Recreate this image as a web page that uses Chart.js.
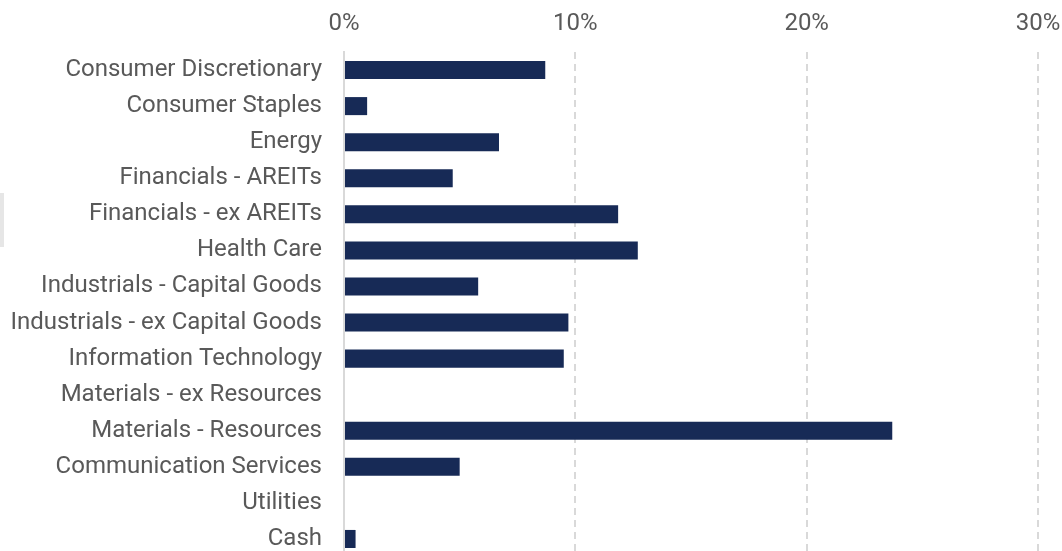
<!DOCTYPE html>
<html>
<head>
<meta charset="utf-8">
<script src="https://cdn.jsdelivr.net/npm/chart.js@4"></script>
<style>
  html, body { margin: 0; padding: 0; overflow: hidden; background: #fff; }
  #wrap { position: relative; width: 1062px; height: 557px; }
  #sectorChart { display: block; }
  #marker { position: absolute; left: 0; top: 193px; width: 4px; height: 54px; background: #e6e6e6; }
</style>
</head>
<body>
<div id="wrap">
  <canvas id="sectorChart" width="1062" height="557"></canvas>
  <div id="marker"></div>
</div>
<script>
// sector weights
const sectors = [
    "Consumer Discretionary",
    "Consumer Staples",
    "Energy",
    "Financials - AREITs",
    "Financials - ex AREITs",
    "Health Care",
    "Industrials - Capital Goods",
    "Industrials - ex Capital Goods",
    "Information Technology",
    "Materials - ex Resources",
    "Materials - Resources",
    "Communication Services",
    "Utilities",
    "Cash"
];
const weights = [8.7, 1.0, 6.7, 4.7, 11.85, 12.7, 5.8, 9.7, 9.5, 0, 23.7, 5.0, 0, 0.5];
const xTicks = [0, 10, 20, 30];

const ctx = document.getElementById("sectorChart");

new Chart(ctx, {
    type: "bar",
    data: {
        labels: sectors,
        datasets: [
            {
                label: "Weight",
                data: weights,
                backgroundColor: "#172a56",
                borderWidth: 0,
                categoryPercentage: 0.5,
                barPercentage: 1,
            },
        ],
    },
    options: {
        indexAxis: "y",
        responsive: false,
        animation: false,
        layout: { padding: { left: 0, right: 24, top: 0, bottom: 0 } },
        plugins: {
            legend: { display: false },
            tooltip: { enabled: false },
        },
        scales: {
            x: {
                position: "top",
                min: 0,
                max: 30,
                afterBuildTicks: (scale) => {
                    scale.ticks = xTicks.map((v) => ({ value: v }));
                },
                afterFit: (scale) => {
                    scale.height = 52;
                    // tick padding should not eat into the plot area
                    scale.paddingLeft = 0;
                    scale.paddingRight = 0;
                },
                grid: {
                    drawTicks: false,
                    lineWidth: 2,
                    color: (c) => (c.tick && c.tick.value === 0 ? "rgba(0,0,0,0)" : "#d9d9d9"),
                },
                border: { display: false, dash: [7, 5] },
                ticks: {
                    padding: 14,
                    color: "#595959",
                    font: { family: "Roboto", size: 24 },
                    callback: (v) => v + "%",
                },
            },
            y: {
                afterFit: (scale) => {
                    scale.width = 344;
                    scale.paddingTop = 0;
                    scale.paddingBottom = 0;
                },
                grid: { display: false, drawTicks: false },
                border: { display: true, color: "#d9d9d9", width: 2 },
                ticks: {
                    padding: 22,
                    color: "#595959",
                    font: { family: "Roboto", size: 24 },
                    autoSkip: false,
                },
            },
        },
    },
});
</script>
</body>
</html>
